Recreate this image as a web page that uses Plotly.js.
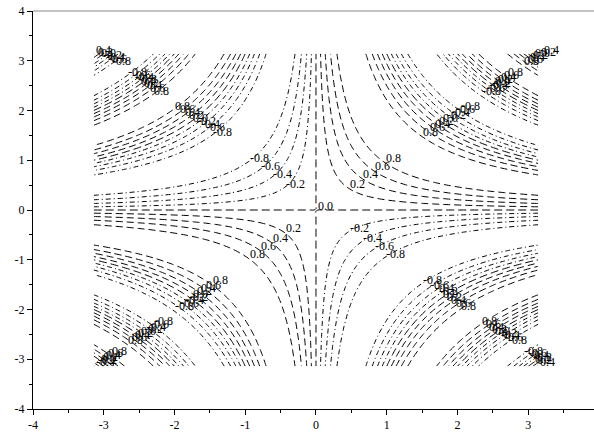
<!DOCTYPE html>
<html>
<head>
<meta charset="utf-8">
<script src="https://cdn.plot.ly/plotly-3.0.1.min.js"></script>
<style>html,body{margin:0;padding:0;background:#fff;overflow:hidden;}</style>
</head>
<body>
<div id="chart" style="width:594px;height:438px;"></div>
<script>
// Contour levels shown in the reference (labels)
const levels = [-0.8, -0.6, -0.4, -0.2, 0.0, 0.2, 0.4, 0.6, 0.8];
const levelDash = ['5px,3px,1px,3px','5px,3px,1px,3px','5px,3px,1px,3px','5px,3px,1px,3px',
                   '8px,4px','7px,4px','7px,4px','7px,4px','7px,4px'];
// Axis tick labels
const xTickVals = [-4, -3, -2, -1, 0, 1, 2, 3];
const xTickText = ['-4', '-3', '-2', '-1', '0', '1', '2', '3'];
const yTickVals = [-4, -3, -2, -1, 0, 1, 2, 3, 4];
const yTickText = ['-4', '-3', '-2', '-1', '0', '1', '2', '3', '4'];
// Grid over [-pi, pi] x [-pi, pi]; the plotted surface is z = sin(x*y)
const nGrid = 120;
const xs = [], ys = [];
for (let i = 0; i < nGrid; i++) {
  xs.push(-Math.PI + 2 * Math.PI * i / (nGrid - 1));
  ys.push(-Math.PI + 2 * Math.PI * i / (nGrid - 1));
}
const z = ys.map(y => xs.map(x => Math.sin(x * y)));

const traces = levels.map((lv, k) => ({
  type: 'contour',
  x: xs, y: ys, z: z,
  autocontour: false,
  contours: {start: lv, end: lv, size: 1, coloring: 'none', showlabels: false},
  line: {color: '#000', width: 1, dash: levelDash[k]},
  showscale: false,
  hoverinfo: 'skip'
}));

// Level labels: placed where each contour branch crosses the diagonals |x| = |y|
const tMax = Math.PI * Math.PI;
const annotations = [];
function addLabel(x, y, lv) {
  annotations.push({x: x, y: y, xref: 'x', yref: 'y', text: lv.toFixed(1),
    showarrow: false, xanchor: 'left', yanchor: 'middle', yshift: 4,
    font: {family: 'Liberation Serif', size: 12, color: '#000'}});
}
levels.forEach(lv => {
  [1, -1].forEach(sgn => {            // sgn = sign of x*y
    const c = sgn * lv;               // need sin(t) = c with t = |x*y|
    const a = Math.asin(c);
    const ts = [];
    for (let k = 0; k < 4; k++) {
      ts.push(a + 2 * Math.PI * k);
      ts.push(Math.PI - a + 2 * Math.PI * k);
    }
    ts.filter(t => t > 1e-9 && t <= tMax).forEach(t => {
      const s = Math.sqrt(t);
      if (sgn > 0) { addLabel(s, s, lv); addLabel(-s, -s, lv); }
      else { addLabel(-s, s, lv); addLabel(s, -s, lv); }
    });
  });
});
addLabel(0, 0, 0.0);

const font = {family: 'Liberation Serif', size: 12, color: '#000'};
const layout = {
  width: 594, height: 438,
  margin: {l: 33, r: 0, t: 11, b: 29},
  paper_bgcolor: '#fff', plot_bgcolor: '#fff',
  showlegend: false,
  font: font,
  xaxis: {
    range: [-4, 3.93], showgrid: false, zeroline: false,
    showline: true, linecolor: '#000', linewidth: 1,
    ticks: 'outside', ticklen: 5, tickcolor: '#000',
    tickvals: xTickVals, ticktext: xTickText,
    minor: {dtick: 0.5, ticks: 'outside', ticklen: 3, tickcolor: '#000', showgrid: false},
    tickfont: font
  },
  yaxis: {
    range: [-4, 4], showgrid: false, zeroline: false,
    showline: true, linecolor: '#000', linewidth: 1,
    ticks: 'outside', ticklen: 5, tickcolor: '#000',
    tickvals: yTickVals, ticktext: yTickText,
    minor: {dtick: 0.5, ticks: 'outside', ticklen: 3, tickcolor: '#000', showgrid: false},
    tickfont: font
  },
  annotations: annotations,
  shapes: [{type: 'line', xref: 'paper', yref: 'paper', x0: 0, x1: 1, y0: 1, y1: 1,
            line: {color: '#888', width: 1}}]
};
Plotly.newPlot('chart', traces, layout, {displayModeBar: false, staticPlot: true});
</script>
</body>
</html>
